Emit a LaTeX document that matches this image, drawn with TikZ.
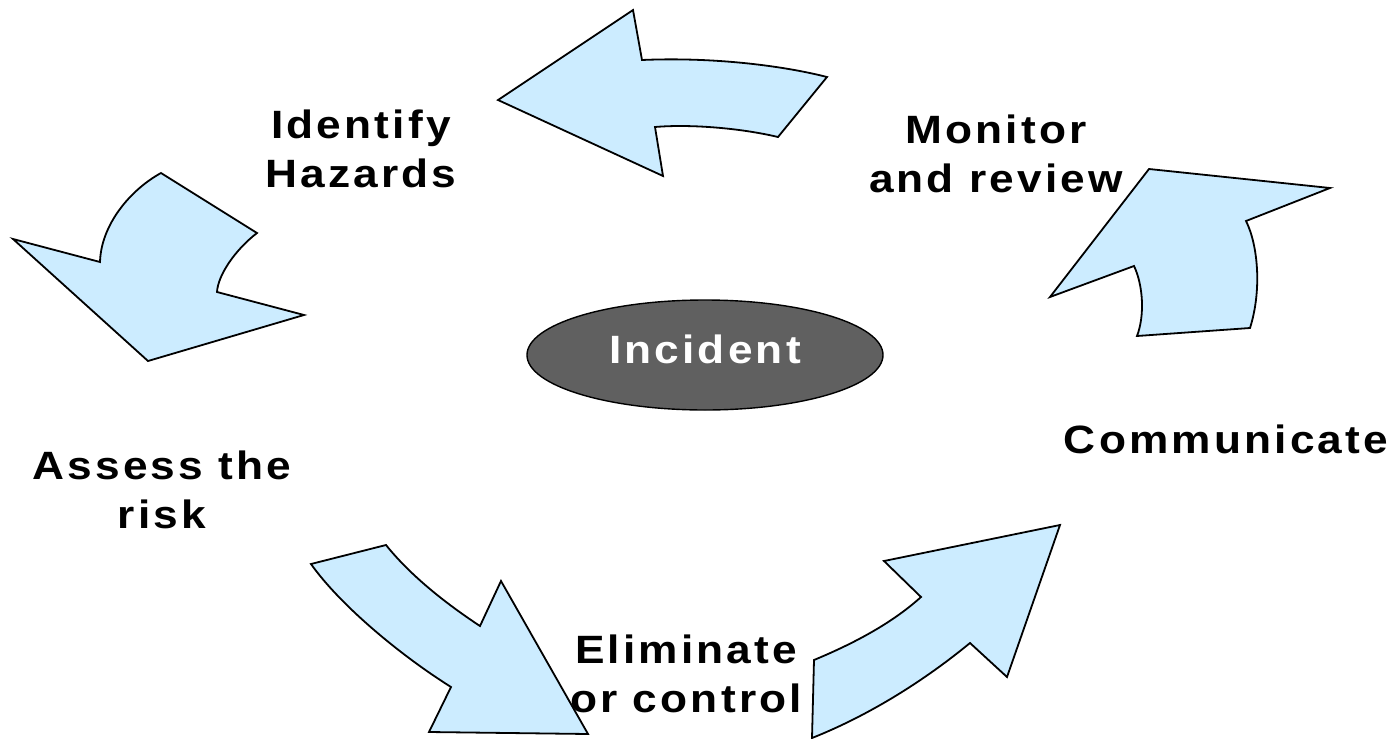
\documentclass[tikz,border=0pt]{standalone}
\usepackage{fontspec}
\setmainfont{Liberation Sans}[LetterSpace=8,FakeStretch=1.12]
\usetikzlibrary{shapes.geometric}
\definecolor{arrowblue}{HTML}{CCECFF}
\definecolor{ellgray}{HTML}{606060}
\begin{document}
\begin{tikzpicture}[x=1pt,y=-1pt,
  arrowshape/.style={fill=arrowblue,draw=black,line width=1.8pt,line join=miter},
  lbl/.style={font=\fontsize{39.5}{49}\selectfont\bfseries,align=center,inner sep=0pt,anchor=base},
]
\useasboundingbox (0,0) rectangle (1395,739);
% top arrow
\draw[arrowshape] (498,100) -- (633,10) -- (642,60)
  .. controls (710,57) and (780,65) .. (827,77) -- (778,137)
  .. controls (740,128) and (690,124) .. (655,127) -- (663,176) -- cycle;
% left arrow
\draw[arrowshape] (13,239) -- (100,262)
  .. controls (101,225) and (130,190) .. (161,173) -- (257,233)
  .. controls (235,250) and (218,275) .. (217,292) -- (304,315) -- (148,361) -- cycle;
% bottom-left arrow
\draw[arrowshape] (311,564) -- (386,545)
  .. controls (410,575) and (445,603) .. (480,626) -- (501,581) -- (588,734) -- (429,732) -- (451,687)
  .. controls (400,655) and (340,605) .. cycle;
% bottom-right arrow
\draw[arrowshape] (814,660)
  .. controls (850,645) and (890,625) .. (921,597) -- (884,561) -- (1060,525) -- (1007,677) -- (970,643)
  .. controls (925,680) and (870,715) .. (812,738) -- cycle;
% right arrow
\draw[arrowshape] (1149,169) -- (1330,188) -- (1246,221)
  .. controls (1258,245) and (1262,290) .. (1250,328) -- (1137,336)
  .. controls (1145,315) and (1143,285) .. (1134,266) -- (1050,297) -- cycle;
% centre
\node[ellipse,draw=black,line width=1.4pt,fill=ellgray,minimum width=356pt,minimum height=110pt,inner sep=0pt] (inc) at (705,355) {};
\node[lbl,text=white] (inctext) at (705,363) {Incident};
% labels
\node[lbl] (ident) at (361,187) {Identify\\Hazards};
\node[lbl] (monit) at (996,192) {Monitor\\and review};
\node[lbl] (comm) at (1226,453) {Communicate};
\node[lbl] (assess) at (162,528) {Assess the\\risk};
\node[lbl] (elim) at (686,712) {Eliminate\\or control};
\end{tikzpicture}
\end{document}
